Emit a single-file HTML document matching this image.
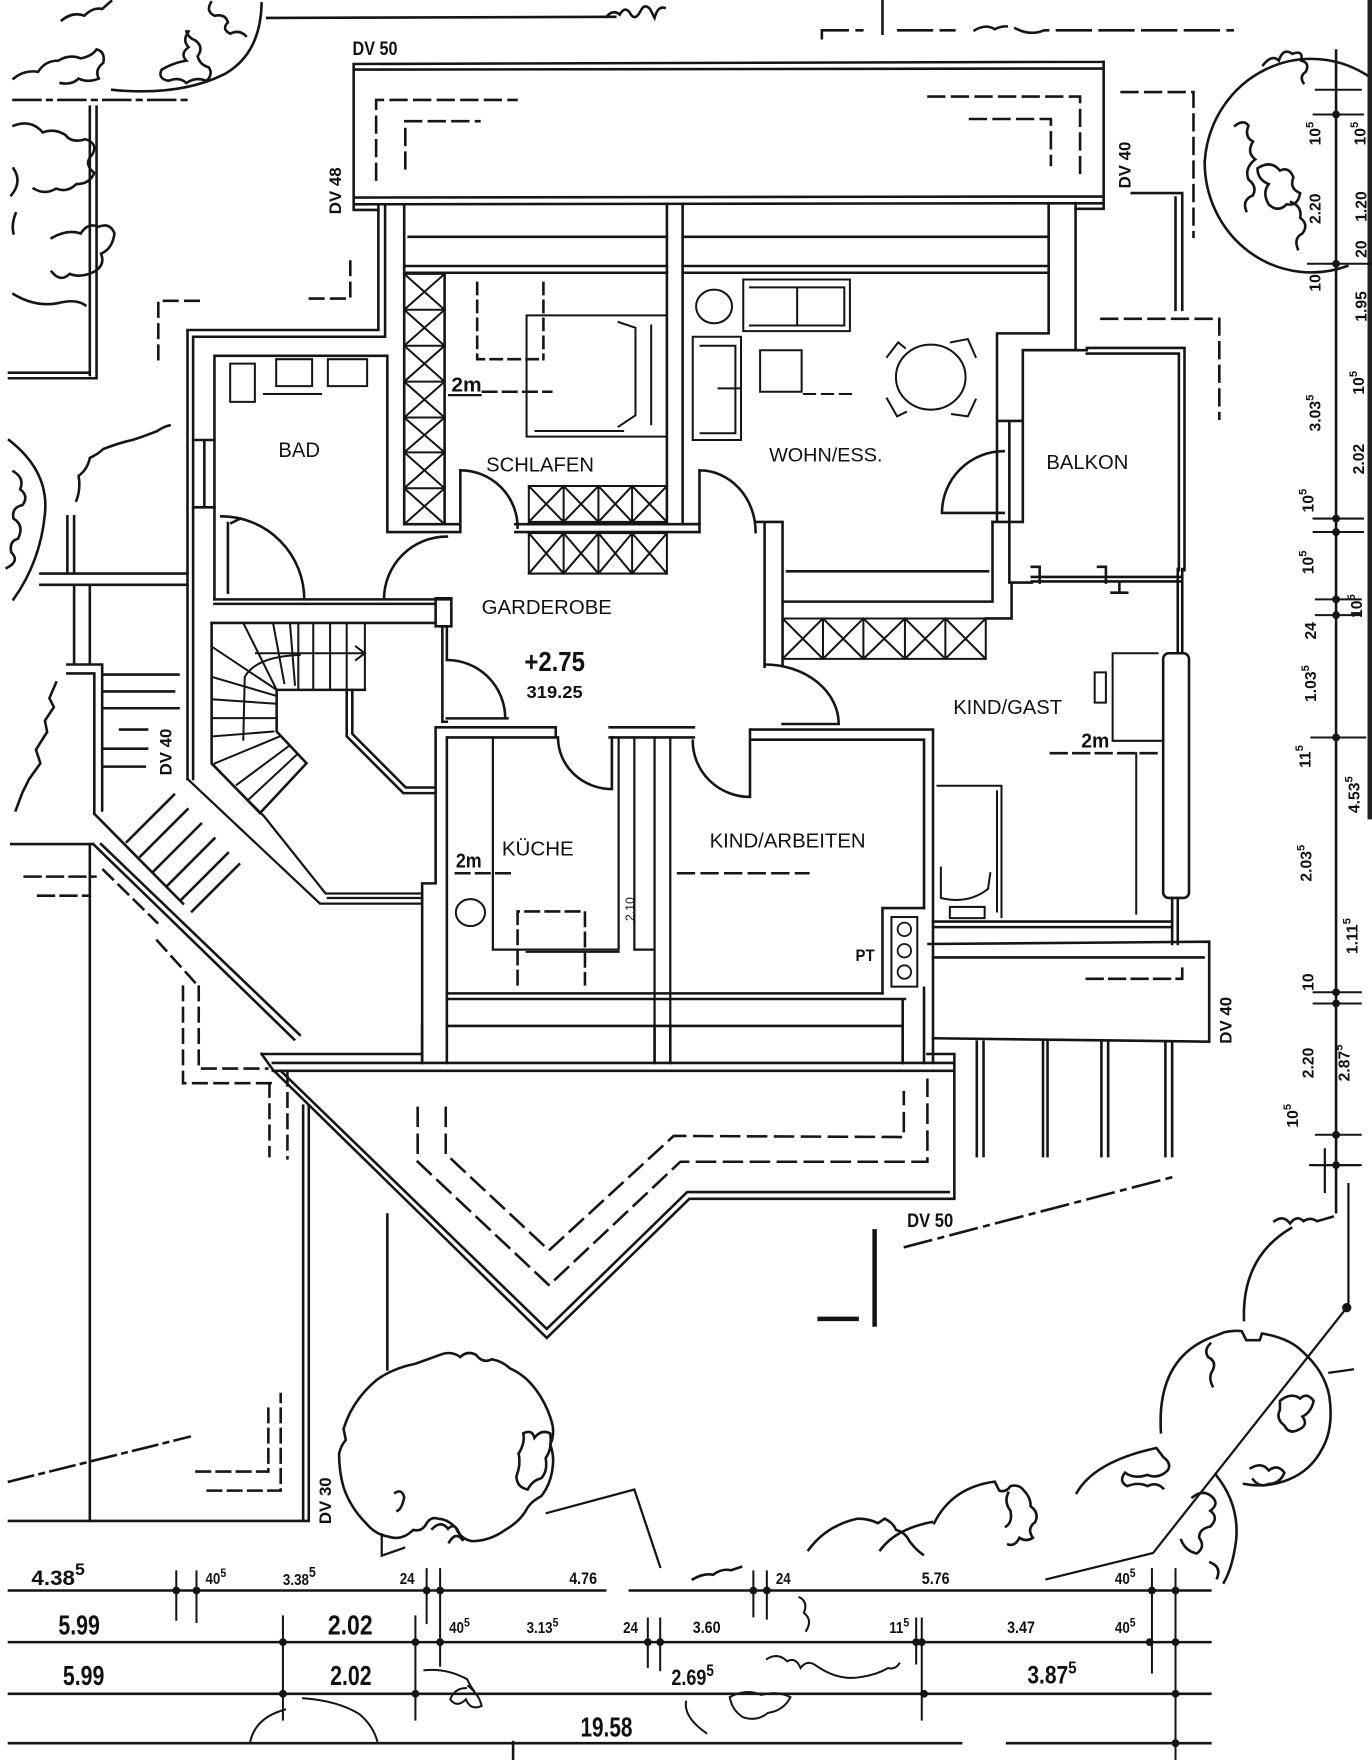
<!DOCTYPE html>
<html><head><meta charset="utf-8">
<style>
html,body{margin:0;padding:0;background:#fff;}
svg{display:block;}
text{font-family:"Liberation Sans",sans-serif;fill:#111;stroke:none;}
.b{font-weight:bold;}
</style></head><body>
<svg width="1372" height="1760" viewBox="0 0 1222 1568" preserveAspectRatio="none" xmlns="http://www.w3.org/2000/svg">
<rect x="0" y="0" width="1222" height="1568" fill="#fff"/>
<g fill="none" stroke="#151515" stroke-width="2.3" stroke-linecap="square" stroke-linejoin="miter">

<!-- ===== TOP LEFT TREES ===== -->
<path d="M238,16 L548,15"/>
<path d="M540,15 q6,-7 12,-2 q5,-9 10,0 q4,6 9,-4 q3,-6 8,-1 l4,8 q3,-11 9,-9"/>
<path d="M233,3 Q232,48 200,66 Q160,86 100,80"/>
<path d="M188,2 q-5,8 3,12 q10,-2 12,6 q-6,6 2,10 q8,-4 14,2"/>
<path d="M168,28 q-6,8 0,14 q-8,6 -2,12 q-12,2 -22,8 q-4,8 6,10 q10,-4 16,2 q8,-6 18,-2 q6,-6 2,-12 q-8,-2 -10,-10 q6,-8 -2,-14 q-6,-2 -8,-8"/>
<path d="M55,18 q10,-8 20,-4 q8,-8 16,-6 l8,-7"/>
<path d="M12,70 q10,-8 22,-6 q6,-10 18,-10 q10,-6 20,-2 q10,-2 14,-8 q8,2 6,12 q-8,6 -4,14 q-10,4 -18,0 q-6,6 -16,4"/>
<path d="M12,112 q16,-6 26,6 q10,-4 20,2 q6,8 18,4 q12,4 6,14 q-8,8 2,16 q-4,10 -16,10 q-8,8 -18,4 q-10,6 -20,0"/>
<path d="M12,150 q8,12 -2,24 M14,190 q-4,10 -2,18"/>
<path d="M46,212 q14,-8 26,-4 q6,-10 16,-6 q10,-4 14,6 q-2,14 -12,18 q4,10 -6,16 q-12,6 -22,2 q-8,8 -16,-2"/>
<path d="M12,262 q20,12 40,8 q16,-4 24,2"/>
<path d="M12,89 L167,89" stroke-dasharray="24 6 4 6"/>
<path d="M80,95 L80,334 M86,95 L86,337 M8,332 L80,332 M8,337 L86,337"/>
<path d="M141,320 L141,268 L177,268" stroke-dasharray="12 7"/>
<path d="M276,266 L312,266 L312,228" stroke-dasharray="12 7"/>

<!-- left trees middle -->
<path d="M8,392 Q44,420 40,458 Q36,500 12,534"/>
<path d="M12,420 q10,6 6,16 q8,6 2,14 q-10,2 -8,12 q10,6 4,18 q-8,2 -6,12 q8,8 -4,14"/>
<path d="M68,446 q4,-10 2,-22 q8,-6 10,-16 q8,-4 12,-8 q16,-6 26,-8 q12,-4 22,-8 q6,-4 11,-5"/>
<path d="M36,511 L167,511 M36,521 L60,521 M60,460 L60,510 M66,460 L66,510 M60,521 L167,521 M66,521 L66,592 M80,521 L80,592 M60,592 L91,592 M60,600 L84,600 M84,600 L84,725 M91,592 L91,722"/>
<path d="M50,608 l-6,14 l4,8 l-8,12 l2,10 l-10,16 l4,12 l-10,14 l-6,12 l-6,16"/>
<path d="M93,601 L159,601 M93,616 L155,616 M93,631 L159,631 M107,650 L131,650 M93,667 L131,667 M93,683 L129,683"/>
<path d="M84,725 L163,805"/>
<path d="M113,750 L155,708 M125,763 L167,721 M137,776 L179,734 M149,789 L191,747 M161,802 L203,760 M171,812 L213,770"/>
<path d="M10,752 L83,752 M83,752 L262,926 M90,752 L267,922"/>
<path d="M22,781 L85,781 M34,798 L80,798" stroke-dasharray="14 6"/>
<path d="M80,752 L80,1355"/>
<path d="M92,775 L140,822 M140,838 L177,879" stroke-dasharray="12 7"/>
<path d="M163,879 L163,965 L242,965 M177,879 L177,952 L238,952" stroke-dasharray="12 7"/>
<path d="M240,965 L240,1030 M256,955 L256,1032" stroke-dasharray="12 7"/>
<path d="M270,985 L270,1355 M275,985 L275,1355 M8,1355 L275,1355"/>
<path d="M8,1320 L169,1280" stroke-dasharray="22 6 4 6"/>
<path d="M175,1311 L239,1311 L239,1251 M185,1328 L250,1328 L250,1242" stroke-dasharray="12 6"/>
<path d="M345,1082 L345,1220"/>

<!-- ===== ROOF NORTH ===== -->
<path d="M315,57 L983,55 M315,62 L983,61 M315,57 L315,187 M983,55 L983,186 M315,176 L983,175 M315,182 L983,181 M315,187 L337,187 M958,186 L983,186"/>
<path d="M335,160 L335,89 L460,89 M361,150 L361,108 L427,108 M827,86 L962,86 L962,160 M864,106 L936,106 L936,147" stroke-dasharray="14 7"/>

<!-- top right -->
<path d="M732,34 L732,27 L768,27 M786,0 L786,36 M800,27 L850,27 M868,27 q10,-6 18,-1 q10,-5 20,0 q12,6 24,1 L1098,27" stroke-dasharray="30 8"/>
<path d="M999,82 L1063,82 L1063,211" stroke-dasharray="14 7"/>
<path d="M1008,172 L1053,172 M1047,176 L1047,276 M1053,172 L1053,276"/>
<path d="M981,284 L1086,284 L1086,373" stroke-dasharray="14 7"/>
<path d="M1073,144 A95,98 0 0 1 1222,70"/>
<path d="M1073,144 A95,98 0 0 0 1200,237"/>
<path d="M1125,58 q8,-10 14,-4 q4,-12 12,-6 q10,-4 8,6 q8,2 4,10 q-6,4 -2,10"/>
<path d="M1100,112 q8,-6 12,0 q-4,10 4,14 q-6,10 2,16 q-10,8 -6,18 q8,6 4,14 q-10,4 -6,14"/>
<path d="M1120,150 q12,-8 20,2 q8,-4 12,6 q-4,10 6,14 q-2,12 -12,10 q-8,8 -16,0 q-6,-10 0,-18 q-10,-4 -10,-14 z"/>
<path d="M1150,180 q10,4 8,14 q8,6 2,14 q-8,4 -4,14"/>
<rect x="1218" y="0" width="4" height="730" fill="#222" stroke="none"/>

<!-- ===== NORTH ROOMS ===== -->
<path d="M337,182 L337,294 L167,294 L167,694 M343,182 L343,300 L172,300 L172,694"/>
<path d="M172,392 L191,392 M172,452 L191,452 M182,392 L182,452"/>
<path d="M191,534 L191,317 L345,317 L345,474 L410,474 M360,182 L360,467 L410,467 M396,244 L396,467 M410,419 L410,474"/>
<path d="M364,211 L594,211 M360,237 L594,237 M360,243 L594,243 M608,211 L934,211 M608,237 L934,237 M608,243 L934,243"/>
<path d="M594,182 L594,467 M608,182 L608,467 M459,467 L623,467 M459,474 L623,474"/>
<!-- closet column -->
<path d="M360,244 L396,244 M360,276 L396,276 M360,308 L396,308 M360,340 L396,340 M360,372 L396,372 M360,403 L396,403 M360,435 L396,435
M360,244 L396,276 M396,244 L360,276 M360,276 L396,308 M396,276 L360,308 M360,308 L396,340 M396,308 L360,340 M360,340 L396,372 M396,340 L360,372 M360,372 L396,403 M396,372 L360,403 M360,403 L396,435 M396,403 L360,435 M360,435 L396,467 M396,435 L360,467" stroke-width="1.8"/>
<!-- schlafen closets -->
<path d="M471,433 L594,433 L594,465 L471,465 Z M502,433 L502,465 M533,433 L533,465 M563,433 L563,465
M471,433 L502,465 M502,433 L471,465 M502,433 L533,465 M533,433 L502,465 M533,433 L563,465 M563,433 L533,465 M563,433 L594,465 M594,433 L563,465" stroke-width="1.8"/>
<path d="M471,475 L594,475 L594,511 L471,511 Z M502,475 L502,511 M533,475 L533,511 M563,475 L563,511
M471,475 L502,511 M502,475 L471,511 M502,475 L533,511 M533,475 L502,511 M533,475 L563,511 M563,475 L533,511 M563,475 L594,511 M594,475 L563,511" stroke-width="1.8"/>
<!-- bed -->
<path d="M469,281 L594,281 L594,389 L469,389 Z M551,287 L566,292 L566,370 L551,380 M580,290 L580,378 M477,384 L555,384" stroke-width="1.8"/>
<path d="M425,252 L425,320 L484,320 M484,252 L484,320" stroke-dasharray="10 6"/>
<path d="M430,349 L491,349" stroke-dasharray="12 6"/>
<path d="M400,352 L428,352" stroke-width="2"/>
<!-- bad fixtures -->
<path d="M205,324 L227,324 L227,358 L205,358 Z M246,320 L278,320 L278,344 L246,344 Z M292,320 L327,320 L327,344 L292,344 Z M235,351 L286,351" stroke-width="1.8"/>
<path d="M197,460 A74,74 0 0 1 271,534 M203,466 L203,528 M206,466 L214,462"/>
<path d="M342,534 A56,56 0 0 1 398,478"/>
<path d="M410,419 A51,51 0 0 1 461,470"/>

<!-- WOHN -->
<path d="M934,181 L934,297 L888,297 L888,375 M958,181 L958,312 L911,312 L911,375 M888,375 L911,375 M888,375 L888,465 M911,375 L911,465 M899,375 L899,465 M884,465 L911,465"/>
<path d="M839,457 A55,55 0 0 1 894,402 M839,457 L894,457"/>
<path d="M623,419 A50,55 0 0 1 673,474 M623,419 L623,474 M608,467 L623,467"/>
<path d="M673,465 L697,465 M681,465 L681,594 M697,465 L697,592 M697,536 L884,536 M701,509 L880,509 M884,465 L884,536 M899,465 L899,519 L919,519 M901,519 L901,551 M878,551 L901,551"/>
<ellipse cx="636" cy="273" rx="16" ry="15" stroke-width="1.8"/>
<path d="M662,249 L757,249 L757,295 L662,295 Z M668,256 L752,256 L752,290 L668,290 M710,256 L710,290" stroke-width="1.8"/>
<path d="M617,300 L660,300 L660,392 L617,392 Z M624,308 L655,308 L655,386 L624,386 M640,346 L660,346" stroke-width="1.8"/>
<path d="M677,312 L714,312 L714,349 L677,349 Z" stroke-width="1.8"/>
<path d="M716,351 L764,351" stroke-dasharray="10 6" stroke-width="1.8"/>
<ellipse cx="829" cy="336" rx="31" ry="29" stroke-width="1.8"/>
<path d="M790,318 L800,305 L806,310 M847,305 L862,302 L869,318 M790,355 L799,371 L807,367 M848,369 L862,371 L869,356" stroke-width="1.8"/>
<!-- BALKON -->
<path d="M911,312 L968,312 M968,310 L1055,310 L1055,508 M968,315 L1050,315 L1050,508"/>
<path d="M919,514 L1051,514 M919,518 L1051,518 M919,505 L926,505 L926,519 M978,505 L985,505 L985,519 M990,528 L1004,528 M997,520 L997,528"/>

<!-- KIND/GAST -->
<path d="M697,551 L878,551 L878,587 L697,587 Z M733,551 L733,587 M769,551 L769,587 M806,551 L806,587 M842,551 L842,587
M697,551 L733,587 M733,551 L697,587 M733,551 L769,587 M769,551 L733,587 M769,551 L806,587 M806,551 L769,587 M806,551 L842,587 M842,551 L806,587 M842,551 L878,587 M878,551 L842,587" stroke-width="1.8"/>
<path d="M1049,507 L1049,582 M1053,507 L1053,582"/>
<rect x="1036" y="582" width="23" height="218" rx="5"/>
<path d="M1044,800 L1044,841 M1049,800 L1049,841"/>
<path d="M991,660 L991,582 L1031,582 M991,660 L1034,660 M975,599 L985,599 L985,626 L975,626 Z" stroke-width="1.8"/>
<path d="M936,671 L1032,671" stroke-dasharray="14 6"/>
<path d="M1012,671 L1012,814" stroke-width="1.8"/>
<path d="M835,700 L892,700 L892,817 M838,773 L838,800 Q862,806 880,792 L882,778 M846,808 L877,808 L877,818 L846,818 Z M888,705 L888,812" stroke-width="1.8"/>
<path d="M681,592 A66,53 0 0 1 747,645 M697,645 L747,645"/>
<path d="M831,821 L1044,821 M831,826 L1044,826"/>
<path d="M827,841 L1077,839 L1077,928 L831,925 M831,853 L1072,853"/>
<path d="M968,872 L1053,872 L1053,860" stroke-dasharray="14 6"/>
<path d="M870,928 L870,1030 M876,928 L876,1030 M929,928 L929,1030 M933,928 L933,1030 M981,928 L981,1030 M987,928 L987,1030 M1038,928 L1038,1030 M1044,928 L1044,1030"/>

<!-- KIND/ARBEITEN -->
<path d="M669,650 L831,650 M669,659 L823,659 M823,659 L823,809 M831,650 L831,947"/>
<path d="M617,660 A51,50 0 0 0 668,710 M668,650 L668,710"/>
<path d="M604,778 L720,778" stroke-dasharray="14 7"/>
<path d="M786,809 L823,809 M786,809 L786,885 M823,880 L823,947"/>
<rect x="794" y="817" width="23" height="62" stroke-width="1.8"/>
<circle cx="805.5" cy="828" r="6" stroke-width="1.6"/>
<circle cx="805.5" cy="847" r="6" stroke-width="1.6"/>
<circle cx="805.5" cy="866" r="6" stroke-width="1.6"/>
<path d="M398,885 L786,885 M398,890 L806,890 M398,914 L804,914 M804,890 L804,947"/>

<!-- KUECHE -->
<path d="M388,648 L495,648 L495,657 L398,657 M543,648 L618,648 M543,657 L618,657 M388,648 L388,787 L376,787 L376,947 M398,657 L398,947"/>
<path d="M497,657 A48,46 0 0 0 545,703 M545,657 L545,703"/>
<path d="M439,659 L439,846 L551,846 M551,659 L551,846 M565,659 L565,846 L583,846 M583,657 L583,947 M597,657 L597,947" stroke-width="2"/>
<path d="M406,778 L455,778" stroke-dasharray="12 6"/>
<ellipse cx="419" cy="813" rx="13" ry="12" stroke-width="1.8"/>
<path d="M461,877 L461,812 L521,812 L521,877" stroke-dasharray="12 6"/>
<path d="M469,848 L551,848" stroke-width="1.8"/>

<!-- STAIR HALL -->
<path d="M191,534 L402,534 M191,538 L388,538 M388,533 L402,533 L402,558 L388,558 Z M188.5,555 L388,555 M394,558 L394,643 M398,558 L398,588 M394,643 L398,643"/>
<path d="M398,588 A52,52 0 0 1 450,640 M398,640 L452,640"/>
<path d="M188.5,555 L188.5,680 L231.6,724.4 M325,614.6 L246.4,614.6 L246.4,651.7 L273,680 L231.6,724.4"/>
<path d="M265.7,555 L265.7,614.6 M279,555 L279,614.6 M294,555 L294,614.6 M308.8,555 L308.8,614.6 M325,555 L325,614.6" stroke-width="1.8"/>
<path d="M216.7,555 L246.4,614.6 M188.5,576 L246.4,614.6 M188.5,603 L246.4,620 M188.5,623 L246.4,627 M243.5,556.7 L253.2,608.6 M258.3,555.8 L262.7,610" stroke-width="1.8"/>
<path d="M228,582 L325,582 M317,576 L325,582 L317,588" stroke-width="1.8"/>
<path d="M267,583.4 Q228,585 218,603 L216.7,659" stroke-width="1.8"/>
<path d="M190,639.8 L246.4,639.8 M190,656 L243.5,651.7 M191.5,680 L249.4,656 M210.8,699.2 L256.8,665 M221.2,712.5 L264.2,672.5" stroke-width="1.8"/>
<path d="M308.8,614.6 L308.8,656 L359.2,706.6 L386,706.6 M313.8,614.6 L313.8,653.8 L361.4,701.6 L386,701.6"/>
<path d="M167,694 L285,805 L376,805 M189,681 L235,727 L290,796 L376,796 M292,800 L376,800" stroke-width="2"/>

<!-- ===== TERRACE ===== -->
<path d="M233,939 L376,939 M826,939 L850,939 M243,947 L850,947 M243,954 L850,954 M850,939 L850,1068 M850,1068 L614,1068 L487,1192 L243,953 L233,939 M845,1062 L612,1062 L487,1184 L250,954"/>
<path d="M376,914 L376,947 M583,914 L583,947 M597,914 L597,947 M804,914 L804,947"/>
<path d="M372,987 L372,1035 L489,1145 L606,1035 L826,1035 L826,962 M397,987 L397,1028 L489,1114 L600,1012 L805,1013 L805,973" stroke-dasharray="16 8"/>
<path d="M806,1111 L1047,1048" stroke-dasharray="24 7 4 7"/>
<path d="M779,1097 L779,1180 M730,1175 L763,1175" stroke-width="4"/>

<!-- bottom left tree -->
<path d="M392,1207 q10,-4 18,2 q6,-6 14,-2 q6,8 14,4 q10,2 16,8 q14,6 24,20 q10,14 14,30 q2,10 -2,18 q4,10 2,22 q-2,14 -10,24 q-8,4 -12,10 q-6,12 -20,20 q-14,10 -30,10 q-10,-2 -14,-12 q-8,-8 -16,-8 q-6,-2 -10,4 q-4,8 -12,6 q-10,10 -22,6 q-12,-2 -20,-12 q-14,-14 -20,-32 q-4,-14 -4,-30 q2,-8 6,-12 l-2,-10 q8,-26 30,-44 q14,-10 34,-14 z"/>
<path d="M462,1295 q6,-10 4,-18 q8,-4 10,4 q6,-8 14,-4 q2,14 -4,22 q2,12 -4,18 q-8,2 -12,10 q-10,-2 -10,-12 q4,-10 2,-20"/>
<path d="M352,1330 q6,-4 8,4 q-2,10 -6,12 M385,1362 q8,-8 14,0 q6,-6 10,4 M400,1374 q6,-10 12,-2"/>
<path d="M340,1367 L340,1386 L360,1379" stroke-width="2"/>
<path d="M487,1348 L565,1327 L588,1396" stroke-width="2"/>

<!-- bottom right trees -->
<path d="M1108,1176 Q1106,1120 1150,1094 M1135,1088 q8,-6 14,2 q6,-8 12,-2 q6,-4 12,0 l14,-4"/>
<path d="M1199.5,1165 L1027,1383.6 L932,1407" stroke-width="2"/>
<circle cx="1199.5" cy="1165" r="3" fill="#151515"/>
<path d="M1201,1055 L1201,1165 M1167,1038 L1210,1038 M1180,1024 L1180,1062 M1184,1223 L1205,1220" stroke-width="2"/>
<path d="M1034,1276 Q1030,1210 1080,1191 q8,-3 10,-4 q10,-2 16,-1 l4,8 l12,0 l2,-6 q24,4 36,16 q20,18 24,40 q4,28 -6,46 q-10,20 -30,28 q-20,8 -40,4"/>
<path d="M1078,1197 q-6,6 -2,12 q8,4 4,12 q-4,6 0,14 M1140,1248 q10,-8 18,-2 q6,-6 12,2 q-2,10 -10,14 q6,8 -4,12 q-8,4 -12,-4 q-8,-6 -4,-14 z M1114,1308 q10,-6 16,2 q8,-6 14,2 q-4,10 -14,10 q-8,4 -14,-4"/>
<path d="M1083,1314 Q1104,1340 1101,1372 Q1098,1396 1090,1410"/>
<path d="M1062,1334 q10,-8 18,0 q6,6 -2,12 q8,6 0,14 q-10,2 -10,10 q6,8 -2,14 q-10,-2 -14,-12 M1078,1392 q10,4 6,14"/>
<path d="M959,1330 Q975,1302 1030,1290 l6,8 q8,6 4,12 q-8,8 -18,4 q-12,4 -20,-2 q-6,8 2,12 q10,-4 18,0 q8,-4 14,2"/>
<path d="M832,1357 Q848,1325 886,1320 l4,8 q6,2 10,-4 q8,-2 12,4 q6,6 6,14 q8,6 4,14 q-8,6 -2,14 q-6,4 -12,0 q-4,8 -10,6 M898,1330 q-4,8 2,16 q2,10 -4,14"/>
<path d="M784,1381 Q798,1362 830,1356"/>
<path d="M720,1381 q16,-22 44,-28 q10,0 18,4 l6,-4 q8,4 10,10 q8,2 12,10 q6,8 12,12"/>
<path d="M617,1407 q10,-6 18,-4 q8,-6 16,-4 l9,-3"/>

<!-- bottom dims area bushes -->
<path d="M223,1551 Q228,1530 254,1523 M270,1513 q30,2 50,14 q12,10 16,24 M378,1488 q20,-2 38,8 q4,8 6,10 M417,1502 q10,8 12,18 q-10,4 -14,-6 q-8,8 -14,0 q4,-10 14,-10 M650,1512 q14,-8 28,-2 q14,-4 26,2 q-6,12 -20,14 q-10,8 -22,4 q-10,-6 -12,-18 M611,1516 q-2,14 18,28 M683,1478 q10,-6 18,2 q8,-4 12,6 q6,-8 14,-2 q20,14 40,10 q14,-2 24,-8 q6,2 10,-4 M712,1423 q8,4 4,14 q8,6 2,16" stroke-width="1.8"/>
<path d="M457,1552 L457,1568"/>

<!-- ===== BOTTOM DIMENSIONS ===== -->
<path d="M8,1417 L539,1417 M561,1417 L1078,1417 M8,1463 L1078,1463 M8,1509 L1078,1509 M8,1553 L856,1553 M897,1553 L1078,1553"/>
<path d="M157,1400 L157,1443 M175,1400 L175,1445 M380,1398 L380,1446 M392,1398 L392,1484 M671,1400 L671,1440 M683,1400 L683,1442 M1026,1398 L1026,1490 M1047,1398 L1047,1568
M252,1440 L252,1532 M370,1440 L370,1532 M577,1442 L577,1485 M588,1442 L588,1488 M816,1442 L816,1482 M821,1442 L821,1532" stroke-width="1.8"/>
<g fill="#151515" stroke="none">
<circle cx="157" cy="1417" r="3.5"/><circle cx="175" cy="1417" r="3.5"/><circle cx="380" cy="1417" r="3.5"/><circle cx="392" cy="1417" r="3.5"/>
<circle cx="671" cy="1417" r="3.5"/><circle cx="683" cy="1417" r="3.5"/><circle cx="1026" cy="1417" r="3.5"/><circle cx="1047" cy="1417" r="3.5"/>
<circle cx="252" cy="1463" r="3.5"/><circle cx="370" cy="1463" r="3.5"/><circle cx="392" cy="1463" r="3.5"/><circle cx="577" cy="1463" r="3.5"/><circle cx="588" cy="1463" r="3.5"/>
<circle cx="816" cy="1463" r="3.5"/><circle cx="821" cy="1463" r="3.5"/><circle cx="1024" cy="1463" r="3.5"/><circle cx="1047" cy="1463" r="3.5"/>
<circle cx="252" cy="1509" r="3.5"/><circle cx="370" cy="1509" r="3.5"/><circle cx="823" cy="1509" r="3.5"/><circle cx="1047" cy="1509" r="3.5"/>
<circle cx="1047" cy="1553" r="3.5"/>
</g>

<!-- ===== RIGHT DIMENSIONS ===== -->
<path d="M1190,45 L1190,1080"/>
<path d="M1172,80 L1212,80 M1170,102 L1214,102 M1165,235 L1222,235 M1170,462 L1214,462 M1170,474 L1214,474 M1172,534 L1212,534 M1172,548 L1212,548 M1168,657 L1216,657 M1170,884 L1212,884 M1170,894 L1212,894 M1172,1011 L1212,1011 M1172,1038 L1212,1038" stroke-width="1.8"/>
<g fill="#151515" stroke="none">
<circle cx="1190" cy="102" r="3.5"/><circle cx="1190" cy="235" r="3.5"/><circle cx="1190" cy="462" r="3.5"/><circle cx="1190" cy="474" r="3.5"/>
<circle cx="1190" cy="534" r="3.5"/><circle cx="1190" cy="548" r="3.5"/><circle cx="1190" cy="657" r="3.5"/><circle cx="1190" cy="884" r="3.5"/>
<circle cx="1190" cy="894" r="3.5"/><circle cx="1190" cy="1011" r="3.5"/><circle cx="1190" cy="1038" r="3.5"/>
</g>
</g>

<!-- ===== TEXT ===== -->
<g>
<text x="248" y="407" font-size="19" textLength="37" lengthAdjust="spacingAndGlyphs">BAD</text>
<text x="433" y="420" font-size="18" textLength="96" lengthAdjust="spacingAndGlyphs">SCHLAFEN</text>
<text x="685" y="411" font-size="17" textLength="101" lengthAdjust="spacingAndGlyphs">WOHN/ESS.</text>
<text x="932" y="418" font-size="18" textLength="73" lengthAdjust="spacingAndGlyphs">BALKON</text>
<text x="429" y="547" font-size="18" textLength="116" lengthAdjust="spacingAndGlyphs">GARDEROBE</text>
<text x="447" y="762" font-size="18" textLength="64" lengthAdjust="spacingAndGlyphs">KÜCHE</text>
<text x="632" y="755" font-size="18" textLength="139" lengthAdjust="spacingAndGlyphs">KIND/ARBEITEN</text>
<text x="849" y="636" font-size="18" textLength="97" lengthAdjust="spacingAndGlyphs">KIND/GAST</text>
<text x="467" y="598" font-size="25" class="b" textLength="54" lengthAdjust="spacingAndGlyphs">+2.75</text>
<text x="469" y="622" font-size="16" class="b" textLength="50" lengthAdjust="spacingAndGlyphs">319.25</text>
<text x="402" y="349" font-size="18" class="b" textLength="27" lengthAdjust="spacingAndGlyphs">2m</text>
<text x="406" y="773" font-size="18" class="b" textLength="23" lengthAdjust="spacingAndGlyphs">2m</text>
<text x="963" y="666" font-size="18" class="b" textLength="25" lengthAdjust="spacingAndGlyphs">2m</text>
<text x="762" y="856" font-size="15" class="b" textLength="17" lengthAdjust="spacingAndGlyphs">PT</text>
<text x="314" y="49" font-size="17" class="b" textLength="40" lengthAdjust="spacingAndGlyphs">DV 50</text>
<text x="808" y="1093" font-size="17" class="b" textLength="41" lengthAdjust="spacingAndGlyphs">DV 50</text>
<text transform="translate(299,170) rotate(-90)" text-anchor="middle" dominant-baseline="central" font-size="15" class="b">DV 48</text>
<text transform="translate(1002,147) rotate(-90)" text-anchor="middle" dominant-baseline="central" font-size="15" class="b">DV 40</text>
<text transform="translate(148,670) rotate(-90)" text-anchor="middle" dominant-baseline="central" font-size="15" class="b">DV 40</text>
<text transform="translate(1092,909) rotate(-90)" text-anchor="middle" dominant-baseline="central" font-size="15" class="b">DV 40</text>
<text transform="translate(290,1337) rotate(-90)" text-anchor="middle" dominant-baseline="central" font-size="15" class="b">DV 30</text>
<text transform="translate(561,810) rotate(-90)" text-anchor="middle" dominant-baseline="central" font-size="11">2.10</text>

<!-- right dims text -->
<g font-size="14" class="b" text-anchor="middle" dominant-baseline="central">
<text transform="translate(1172,119) rotate(-90)">10<tspan dy="-5" font-size="10">5</tspan></text>
<text transform="translate(1172,186) rotate(-90)">2.20</text>
<text transform="translate(1172,252) rotate(-90)">10</text>
<text transform="translate(1172,368) rotate(-90)">3.03<tspan dy="-5" font-size="10">5</tspan></text>
<text transform="translate(1166,446) rotate(-90)">10<tspan dy="-5" font-size="10">5</tspan></text>
<text transform="translate(1166,501) rotate(-90)">10<tspan dy="-5" font-size="10">5</tspan></text>
<text transform="translate(1168,562) rotate(-90)">24</text>
<text transform="translate(1168,609) rotate(-90)">1.03<tspan dy="-5" font-size="10">5</tspan></text>
<text transform="translate(1163,674) rotate(-90)">11<tspan dy="-5" font-size="10">5</tspan></text>
<text transform="translate(1164,769) rotate(-90)">2.03<tspan dy="-5" font-size="10">5</tspan></text>
<text transform="translate(1166,875) rotate(-90)">10</text>
<text transform="translate(1166,947) rotate(-90)">2.20</text>
<text transform="translate(1152,994) rotate(-90)">10<tspan dy="-5" font-size="10">5</tspan></text>
<text transform="translate(1212,119) rotate(-90)">10<tspan dy="-5" font-size="10">5</tspan></text>
<text transform="translate(1213,184) rotate(-90)">1.20</text>
<text transform="translate(1213,222) rotate(-90)">20</text>
<text transform="translate(1213,273) rotate(-90)">1.95</text>
<text transform="translate(1211,341) rotate(-90)">10<tspan dy="-5" font-size="10">5</tspan></text>
<text transform="translate(1211,409) rotate(-90)">2.02</text>
<text transform="translate(1209,540) rotate(-90)">10<tspan dy="-5" font-size="10">5</tspan></text>
<text transform="translate(1207,708) rotate(-90)">4.53<tspan dy="-5" font-size="10">5</tspan></text>
<text transform="translate(1205,834) rotate(-90)">1.11<tspan dy="-5" font-size="10">5</tspan></text>
<text transform="translate(1198,947) rotate(-90)">2.87<tspan dy="-5" font-size="10">5</tspan></text>
</g>

<!-- bottom dims text -->
<g class="b">
<text transform="translate(28,1412) scale(1.05,1)" font-size="19">4.38<tspan dy="-9" font-size="15">5</tspan></text>
<text transform="translate(183,1411) scale(0.85,1)" font-size="14">40<tspan dy="-6" font-size="11">5</tspan></text>
<text transform="translate(252,1412) scale(0.85,1)" font-size="14">3.38<tspan dy="-7" font-size="13">5</tspan></text>
<text transform="translate(356,1411) scale(0.85,1)" font-size="14">24</text>
<text transform="translate(507,1411) scale(0.85,1)" font-size="15">4.76</text>
<text transform="translate(691,1411) scale(0.85,1)" font-size="14">24</text>
<text transform="translate(821,1411) scale(0.85,1)" font-size="15">5.76</text>
<text transform="translate(993,1411) scale(0.85,1)" font-size="14">40<tspan dy="-6" font-size="11">5</tspan></text>
<text transform="translate(52,1456) scale(0.76,1)" font-size="25">5.99</text>
<text transform="translate(292,1456) scale(0.82,1)" font-size="25">2.02</text>
<text transform="translate(400,1455) scale(0.85,1)" font-size="14">40<tspan dy="-6" font-size="11">5</tspan></text>
<text transform="translate(469,1455) scale(0.85,1)" font-size="14">3.13<tspan dy="-6" font-size="11">5</tspan></text>
<text transform="translate(555,1455) scale(0.85,1)" font-size="14">24</text>
<text transform="translate(617,1455) scale(0.85,1)" font-size="15">3.60</text>
<text transform="translate(792,1455) scale(0.85,1)" font-size="14">11<tspan dy="-6" font-size="11">5</tspan></text>
<text transform="translate(897,1455) scale(0.85,1)" font-size="15">3.47</text>
<text transform="translate(993,1455) scale(0.85,1)" font-size="14">40<tspan dy="-6" font-size="11">5</tspan></text>
<text transform="translate(56,1501) scale(0.76,1)" font-size="25">5.99</text>
<text transform="translate(294,1501) scale(0.76,1)" font-size="25">2.02</text>
<text transform="translate(598,1501) scale(0.8,1)" font-size="20">2.69<tspan dy="-8" font-size="15">5</tspan></text>
<text transform="translate(915,1500) scale(0.85,1)" font-size="22">3.87<tspan dy="-9" font-size="16">5</tspan></text>
<text transform="translate(517,1547) scale(0.74,1)" font-size="25">19.58</text>
</g>
</g>
</svg>
</body></html>
